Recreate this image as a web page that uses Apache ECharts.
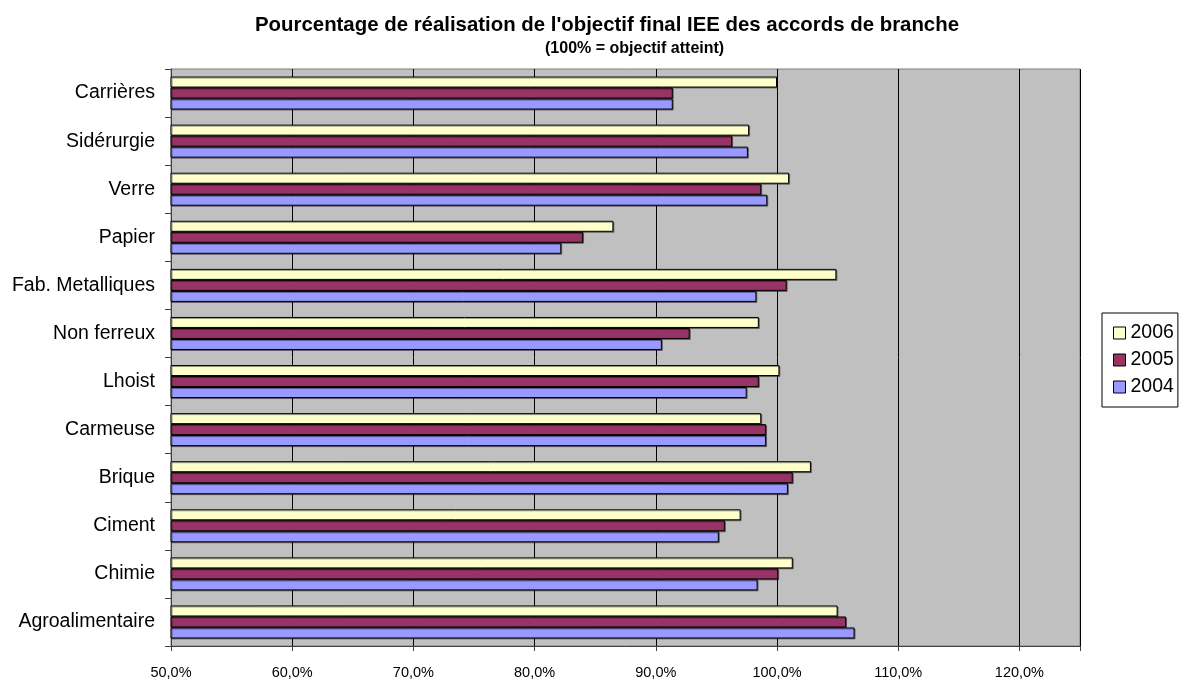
<!DOCTYPE html>
<html>
<head>
<meta charset="utf-8">
<script src="https://cdn.jsdelivr.net/npm/echarts@6/dist/echarts.min.js"></script>
<style>
html,body{margin:0;padding:0;background:#fff;}
#chart{width:1185px;height:680px;}
</style>
</head>
<body>
<div id="chart"></div>
<script>
var categories = ['Carrières','Sidérurgie','Verre','Papier','Fab. Metalliques','Non ferreux','Lhoist','Carmeuse','Brique','Ciment','Chimie','Agroalimentaire'];
var values2006 = [100.0, 97.7, 101.0, 86.5, 104.9, 98.5, 100.2, 98.7, 102.8, 97.0, 101.3, 105.0];
var values2005 = [91.4, 96.3, 98.7, 84.0, 100.8, 92.8, 98.5, 99.1, 101.3, 95.7, 100.1, 105.7];
var values2004 = [91.4, 97.6, 99.2, 82.2, 98.3, 90.5, 97.5, 99.1, 100.9, 95.2, 98.4, 106.4];
var seriesNames = ['2006','2005','2004'];
var xTicks = [50, 60, 70, 80, 90, 100, 110, 120];
var titleText = "Pourcentage de réalisation de l'objectif final IEE des accords de branche";
var subtitleText = "(100% = objectif atteint)";

var colors = {'2006':'#FFFFCC','2005':'#993366','2004':'#9999FF'};
var dataBySeries = {'2006':values2006,'2005':values2005,'2004':values2004};
var font = "'Liberation Sans', Arial, sans-serif";

var chart = echarts.init(document.getElementById('chart'));
var series = seriesNames.map(function(n){
  return {
    name: n,
    type: 'bar',
    data: dataBySeries[n],
    barWidth: 11,
    barGap: '0%',
    itemStyle: {
      color: colors[n],
      borderColor: '#000',
      borderWidth: 1,
      shadowColor: 'rgba(0,0,0,0.4)',
      shadowOffsetX: 1,
      shadowOffsetY: 1,
      shadowBlur: 0
    },
    emphasis: {disabled: true},
    animation: false
  };
});

chart.setOption({
  animation: false,
  textStyle: {fontFamily: font},
  graphic: [
    {type:'text', left: 255, top: 15, style:{text: titleText, font: "bold 20.4px 'Liberation Sans', Arial, sans-serif", fill:'#000'}, z: 10},
    {type:'text', left: 545, top: 41, style:{text: subtitleText, font: "bold 16px 'Liberation Sans', Arial, sans-serif", fill:'#000'}, z: 10}
  ],
  legend: {
    data: ['2006','2005','2004'],
    orient: 'vertical',
    left: 1102,
    top: 313,
    padding: [10, 4, 10, 11],
    icon: 'rect',
    itemWidth: 12,
    itemHeight: 12,
    itemGap: 7,
    itemTextGap: 6,
    borderColor: '#000',
    borderWidth: 1,
    backgroundColor: '#fff',
    itemStyle: {shadowColor: 'transparent', shadowOffsetX: 0, shadowOffsetY: 0, borderColor: '#000', borderWidth: 1},
    textStyle: {fontSize: 19.5, color: '#000', fontFamily: font},
    selectedMode: false
  },
  grid: {
    left: 171, right: 105, top: 69, bottom: 33,
    show: true,
    backgroundColor: '#C0C0C0',
    borderColor: '#808080',
    borderWidth: 1,
    containLabel: false
  },
  xAxis: {
    type: 'value',
    min: 50,
    max: 125,
    interval: 10,
    axisLine: {show: true, lineStyle: {color: '#404040', width: 1}},
    axisTick: {show: true, length: 5, lineStyle: {color: '#404040'}},
    splitLine: {show: true, lineStyle: {color: '#000', width: 1}},
    axisLabel: {
      fontSize: 14.5, color: '#000', margin: 19, fontFamily: font,
      formatter: function(v){ return xTicks.indexOf(v) >= 0 ? v.toFixed(1).replace('.', ',') + '%' : ''; }
    }
  },
  yAxis: {
    type: 'category',
    data: categories,
    inverse: true,
    axisLine: {show: true, lineStyle: {color: '#404040', width: 1}},
    axisTick: {show: true, length: 6, lineStyle: {color: '#404040'}},
    axisLabel: {fontSize: 19.5, color: '#000', margin: 16, fontFamily: font},
    splitLine: {show: false}
  },
  series: series
});
</script>
</body>
</html>
